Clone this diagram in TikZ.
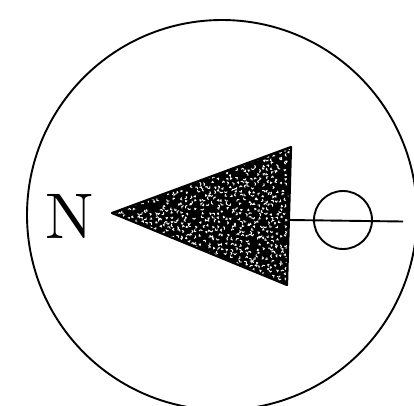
\documentclass[tikz,border=0pt]{standalone}
\begin{document}
\begin{tikzpicture}[x=1pt,y=-1pt,
  outline/.style={draw=black,line width=1.9pt},
  speck/.style={draw=white,line width=0.95pt,line cap=round,line join=round}]
\useasboundingbox (0,0) rectangle (414,405);
\clip (0,0) rectangle (414,405);
\node[outline,circle,minimum size=390pt,inner sep=0pt] (compass) at (222,215) {};
\node[inner sep=0pt,scale=6.45,font=\fontsize{10}{12}\selectfont,anchor=center] (north) at (70,216.5) {N};
\coordinate (tip) at (112,213);
\coordinate (top) at (291,147);
\coordinate (bot) at (287,285);
\fill (tip) -- (top) -- (bot) -- cycle;
\begin{scope}
  \clip (tip) -- (top) -- (bot) -- cycle;
  \pgfmathsetseed{4217}
  \foreach \gx in {0,...,40}{
    \foreach \gy in {0,...,33}{
      \pgfmathsetmacro{\ax}{110+\gx*4.5+rand*1.1}
      \pgfmathsetmacro{\ay}{143+\gy*4.4+rand*1.1}
      \pgfmathsetmacro{\ang}{rnd*360}
      \pgfmathsetmacro{\bng}{\ang+60+rnd*80}
      \pgfmathtruncatemacro{\ok}{rnd<0.8?1:0}
      \ifnum\ok=1
        \draw[speck] (\ax,\ay) -- ++(\ang:1.7) -- ++(\bng:1.7);
      \fi
    }
  }
\end{scope}
\draw[line width=2.2pt,line join=round] (tip) -- (top) -- (bot) -- cycle;
\node[outline,circle,minimum size=58pt,inner sep=0pt] (wheel) at (343,220) {};
\coordinate (tail) at (403,221.5);
\coordinate (base) at (290,220);
\draw[line width=1.9pt] (base) -- (tail);
\end{tikzpicture}
\end{document}
